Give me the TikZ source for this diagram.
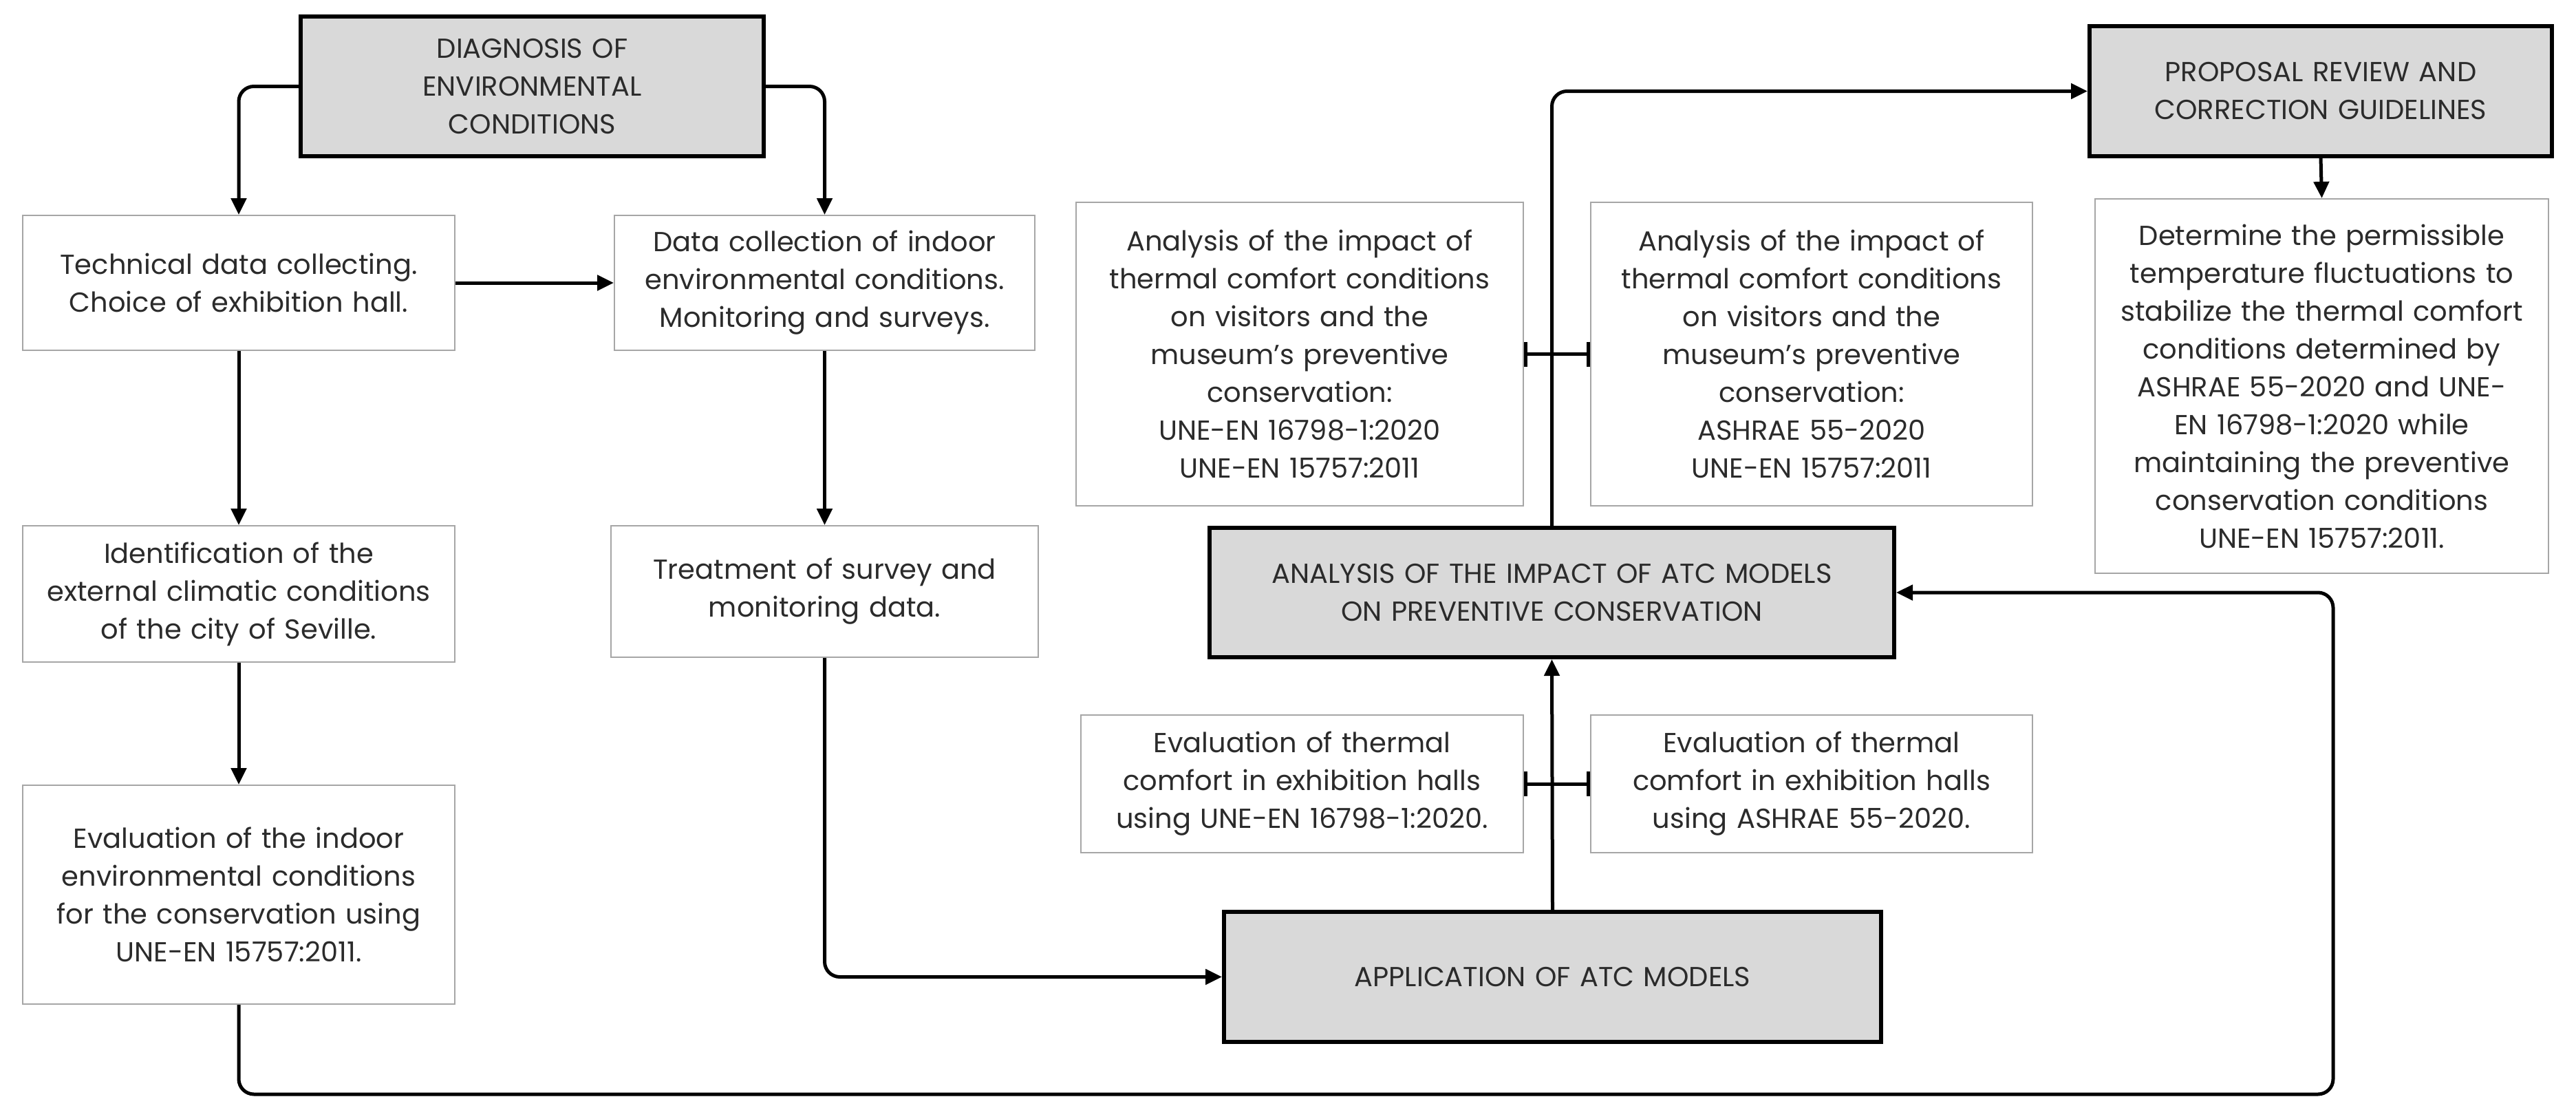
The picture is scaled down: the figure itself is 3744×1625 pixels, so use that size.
\documentclass[tikz,border=0pt]{standalone}
\usepackage{fontspec}
\setmainfont{Poppins}
\usetikzlibrary{arrows.meta}
\definecolor{boxgray}{HTML}{D9D9D9}
\definecolor{txt}{HTML}{2B2B2B}
\begin{document}
\begin{tikzpicture}[x=1pt,y=-1pt,
  base/.style={align=center,text=txt,font=\fontsize{40}{55}\selectfont,inner sep=0pt},
  wbox/.style={base,draw=black!35,line width=2pt,fill=white},
  gbox/.style={base,draw=black,line width=6pt,fill=boxgray},
  arr/.style={line width=5pt,-{Triangle[length=24pt,width=22pt]},rounded corners=22pt},
  bar/.style={line width=5pt,{Bar[width=36pt]}-{Bar[width=36pt]}}]
\fill[white] (0,0) rectangle (3744,1625);
\useasboundingbox (0,0) rectangle (3744,1625);
\node[gbox,minimum width=673,minimum height=203,text width=560] (diag) at (773.5,125.5) {DIAGNOSIS OF\\ ENVIRONMENTAL\\ CONDITIONS};
\node[wbox,minimum width=628,minimum height=196,text width=600] (tech) at (347,411) {Technical data collecting.\\ Choice of exhibition hall.};
\node[wbox,minimum width=611,minimum height=196,text width=590] (data) at (1198.5,411) {Data collection of indoor\\ environmental conditions.\\ Monitoring and surveys.};
\node[wbox,minimum width=628,minimum height=198,text width=600] (ident) at (347,863) {Identification of the\\ external climatic conditions\\ of the city of Seville.};
\node[wbox,minimum width=621,minimum height=191,text width=590] (treat) at (1198.5,859.5) {Treatment of survey and\\ monitoring data.};
\node[wbox,minimum width=628,minimum height=318,text width=600] (evalin) at (347,1300) {Evaluation of the indoor\\ environmental conditions\\ for the conservation using\\ UNE-EN 15757:2011.};
\node[wbox,minimum width=650,minimum height=441,text width=620] (an1) at (1889,514.5) {Analysis of the impact of\\ thermal comfort conditions\\ on visitors and the\\ museum’s preventive\\ conservation:\\ UNE-EN 16798-1:2020\\ UNE-EN 15757:2011};
\node[wbox,minimum width=642,minimum height=441,text width=620] (an2) at (2633,514.5) {Analysis of the impact of\\ thermal comfort conditions\\ on visitors and the\\ museum’s preventive\\ conservation:\\ ASHRAE 55-2020\\ UNE-EN 15757:2011};
\node[gbox,minimum width=995,minimum height=188,text width=960] (atc) at (2255.5,861) {ANALYSIS OF THE IMPACT OF ATC MODELS\\ ON PREVENTIVE CONSERVATION};
\node[wbox,minimum width=643,minimum height=200,text width=630] (ev1) at (1892.5,1139) {Evaluation of thermal\\ comfort in exhibition halls\\ using UNE-EN 16798-1:2020.};
\node[wbox,minimum width=642,minimum height=200,text width=620] (ev2) at (2633,1139) {Evaluation of thermal\\ comfort in exhibition halls\\ using ASHRAE 55-2020.};
\node[gbox,minimum width=955,minimum height=189,text width=920] (app) at (2256.5,1419.5) {APPLICATION OF ATC MODELS};
\node[gbox,minimum width=672,minimum height=189,text width=640] (prop) at (3373,132.5) {PROPOSAL REVIEW AND\\ CORRECTION GUIDELINES};
\node[wbox,minimum width=659,minimum height=544,text width=640] (det) at (3374.5,561) {Determine the permissible\\ temperature fluctuations to\\ stabilize the thermal comfort\\ conditions determined by\\ ASHRAE 55-2020 and UNE-\\ EN 16798-1:2020 while\\ maintaining the preventive\\ conservation conditions\\ UNE-EN 15757:2011.};
\coordinate (c1) at (3391,1590);
\draw[arr] (diag.west) -| (tech.north);
\draw[arr] (diag.east) -| (data.north);
\draw[arr] (tech.east) -- (data.west);
\draw[arr] (tech.south) -- (ident.north);
\draw[arr] (ident.south) -- (evalin.north);
\draw[arr] (data.south) -- (treat.north);
\draw[arr] (treat.south) |- (app.west);
\draw[arr] (evalin.south) |- (c1) |- (atc.east);
\draw[arr] (app.north) -- (atc.south);
\draw[arr] (atc.north) |- (prop.west);
\draw[arr] (prop.south) -- (det.north);
\draw[bar] (an1.east) -- (an2.west);
\draw[bar] (ev1.east) -- (ev2.west);
\end{tikzpicture}
\end{document}
